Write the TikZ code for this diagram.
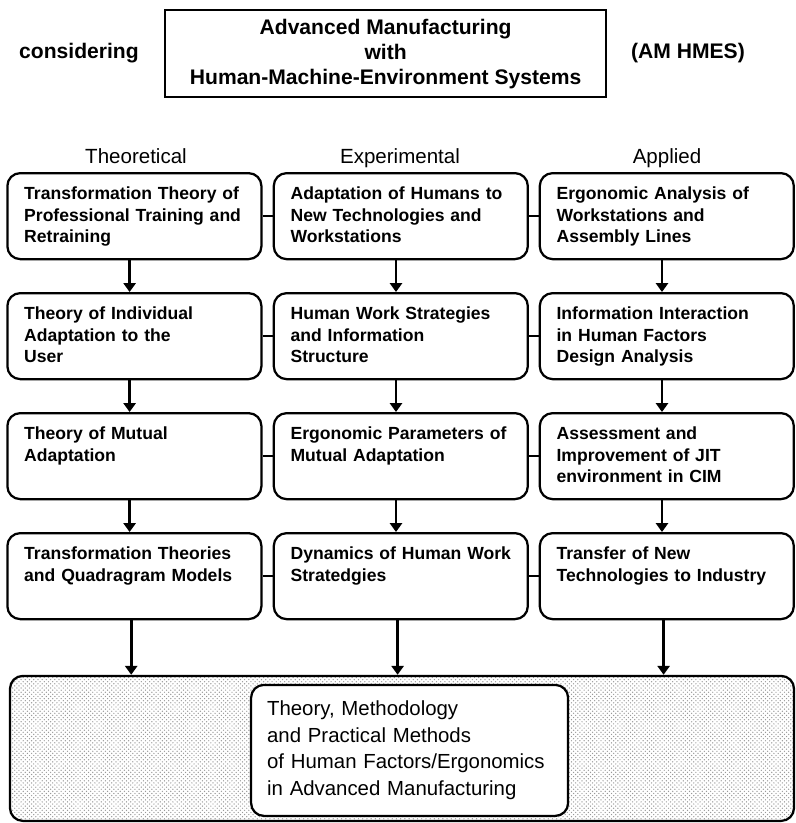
\documentclass[tikz,border=0pt]{standalone}
\usepackage{fontspec}
\setmainfont{Liberation Sans}
\usetikzlibrary{arrows.meta,patterns}

\tikzset{
  stepbox/.style={draw, line width=1.6pt, rounded corners=0.32cm, anchor=north,
    text width=5.51cm, inner xsep=0.42cm, inner ysep=0pt,
    text height=0.65cm, text depth=1.5cm, align=left,
    font=\fontsize{12.5}{15.6}\selectfont\bfseries},
  colhead/.style={anchor=base, font=\fontsize{14.6}{17}\selectfont},
  sidelabel/.style={font=\fontsize{15}{17.8}\selectfont\bfseries},
  flow/.style={-{Triangle[length=0.22cm,width=0.3cm]}, line width=2pt},
  link/.style={line width=1.6pt}
}

\begin{document}
\begin{tikzpicture}
    \useasboundingbox (0,0) rectangle (19.9,-20.575);

    % Titulo
    \node[draw, line width=1.6pt, minimum width=11.025cm, minimum height=2.175cm, align=center,
          font=\fontsize{15}{17.8}\selectfont\bfseries] (title) at (9.64,-1.34)
          {Advanced Manufacturing\\with\\Human-Machine-Environment Systems};
    \node[sidelabel] (cons) at (1.975,-1.33) {considering};
    \node[sidelabel] (amhmes) at (17.2,-1.33) {(AM HMES)};

    % Columnas
    \node[colhead] (hth) at (3.4,-4.08) {Theoretical};
    \node[colhead] (hex) at (10.0,-4.08) {Experimental};
    \node[colhead] (hap) at (16.675,-4.08) {Applied};

    % Cajas
    \node[stepbox] (th1) at (3.36,-4.3) {Transformation Theory of\\Professional Training and\\Retraining};
    \node[stepbox] (ex1) at (10.02,-4.3) {Adaptation of Humans to\\New Technologies and\\Workstations};
    \node[stepbox] (ap1) at (16.67,-4.3) {Ergonomic Analysis of\\Workstations and\\Assembly Lines};

    \node[stepbox] (th2) at (3.36,-7.3) {Theory of Individual\\Adaptation to the\\User};
    \node[stepbox] (ex2) at (10.02,-7.3) {Human Work Strategies\\and Information\\Structure};
    \node[stepbox] (ap2) at (16.67,-7.3) {Information Interaction\\in Human Factors\\Design Analysis};

    \node[stepbox] (th3) at (3.36,-10.3) {Theory of Mutual\\Adaptation};
    \node[stepbox] (ex3) at (10.02,-10.3) {Ergonomic Parameters of\\Mutual Adaptation};
    \node[stepbox] (ap3) at (16.67,-10.3) {Assessment and\\Improvement of JIT\\environment in CIM};

    \node[stepbox] (th4) at (3.36,-13.3) {Transformation Theories\\and Quadragram Models};
    \node[stepbox] (ex4) at (10.02,-13.3) {Dynamics of Human Work\\Stratedgies};
    \node[stepbox] (ap4) at (16.67,-13.3) {Transfer of New\\Technologies to Industry};

    % Resultado
    \node[draw, line width=1.6pt, rounded corners=0.32cm, pattern=crosshatch dots, pattern color=gray!80,
          minimum width=19.6cm, minimum height=3.625cm] (base) at (10.05,-18.71) {};
    \node[draw, line width=1.6pt, fill=white, rounded corners=0.32cm, text width=7.125cm, inner xsep=0.4cm,
          minimum height=3.275cm, align=left, font=\fontsize{14.5}{18.85}\selectfont] (result) at (10.24,-18.76)
          {Theory, Methodology\\and Practical Methods\\of Human Factors/Ergonomics\\in Advanced Manufacturing};

    % Flechas
    \foreach \c in {th,ex,ap} {
        \foreach \i/\j in {1/2,2/3,3/4}
            \draw[flow] ([xshift=-0.12cm]\c\i.south) -- ([xshift=-0.12cm]\c\j.north);
        \draw[flow] ([xshift=-0.08cm]\c4.south) -- ([xshift=-0.08cm]\c4.south |- base.north);
    }
    \foreach \i in {1,...,4} {
        \draw[link] (th\i.east) -- (ex\i.west);
        \draw[link] (ex\i.east) -- (ap\i.west);
    }
\end{tikzpicture}
\end{document}
